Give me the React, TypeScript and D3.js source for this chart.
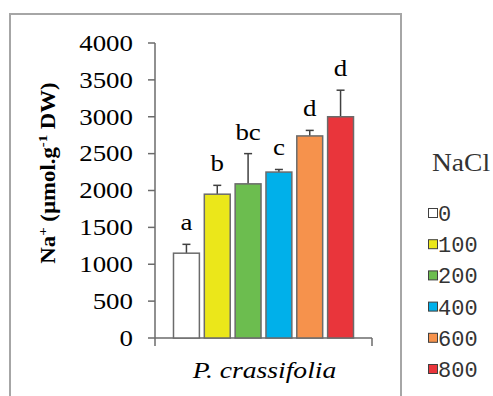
import * as d3 from "d3";

const groups = ["P. crassifolia"];
const treatments = ["0", "100", "200", "400", "600", "800"];
const means = [1150, 1950, 2090, 2250, 2740, 3000];
const errors = [120, 120, 410, 35, 75, 360];
const letters = ["a", "b", "bc", "c", "d", "d"];
const colors = ["#ffffff", "#ebe71a", "#6cbd4f", "#00b0ea", "#f6924c", "#e9353b"];
const yTicks = [0, 500, 1000, 1500, 2000, 2500, 3000, 3500, 4000];

const W = 493;
const H = 396;
const serif = "'Liberation Serif', 'Times New Roman', serif";
// the source figure is stretched a little horizontally
const SX = 1.17;

const App = () => {
  const y = d3.scaleLinear().domain([0, 4000]).range([338, 43]);
  const x0 = d3.scaleBand().domain(groups).range([155, 372]).padding(0);
  const x1 = d3
    .scaleBand()
    .domain(treatments)
    .range([0, x0.bandwidth()])
    .paddingInner(0.16)
    .paddingOuter(0.6);

  const gx = x0(groups[0]) as number;

  return (
    <svg width={W} height={H} style={{ position: "absolute", left: 0, top: 0 }}>
      <rect x={0} y={0} width={W} height={H} fill="#fff" />
      {/* plot frame */}
      <rect x={10} y={14} width={391} height={400} fill="none" stroke="#a6a6a6" strokeWidth={2} />

      {/* y axis */}
      <line x1={155} x2={155} y1={y(4000)} y2={346} stroke="#6b6b6b" strokeWidth={1.5} />
      {yTicks.map((t) => (
        <g key={t}>
          <line x1={148} x2={155} y1={y(t)} y2={y(t)} stroke="#6b6b6b" strokeWidth={1.5} />
          <text
            transform={`translate(133,${y(t)}) scale(${SX},1)`}
            dy="0.34em"
            textAnchor="end"
            fontFamily={serif}
            fontSize={23}
            fill="#000"
          >
            {t}
          </text>
        </g>
      ))}

      {/* x axis */}
      <line x1={155} x2={372} y1={338} y2={338} stroke="#6b6b6b" strokeWidth={1.5} />
      <line x1={372} x2={372} y1={338} y2={346} stroke="#6b6b6b" strokeWidth={1.5} />

      {/* bars */}
      {treatments.map((t, i) => {
        const bx = gx + (x1(t) as number);
        const bw = x1.bandwidth();
        const cx = bx + bw / 2;
        const top = y(means[i] + errors[i]);
        return (
          <g key={t}>
            <line x1={cx} x2={cx} y1={y(means[i])} y2={top} stroke="#404040" strokeWidth={1.5} />
            <line x1={cx - 4} x2={cx + 4} y1={top} y2={top} stroke="#404040" strokeWidth={1.5} />
            <rect
              x={bx}
              y={y(means[i])}
              width={bw}
              height={y(0) - y(means[i])}
              fill={colors[i]}
              stroke="#6b6b6b"
              strokeWidth={1.5}
            />
            <text
              transform={`translate(${cx},${top - 14}) scale(${SX},1)`}
              textAnchor="middle"
              fontFamily={serif}
              fontSize={23}
              fill="#000"
            >
              {letters[i]}
            </text>
          </g>
        );
      })}

      {/* x label */}
      <text
        transform={`translate(${gx + x0.bandwidth() / 2 + 1},378) scale(1.2,1)`}
        textAnchor="middle"
        fontFamily={serif}
        fontStyle="italic"
        fontSize={23}
        fill="#000"
      >
        {groups[0]}
      </text>

      {/* y label */}
      <text
        transform="translate(55,173) rotate(-90) scale(1.14,1)"
        textAnchor="middle"
        fontFamily={serif}
        fontWeight="bold"
        fontSize={20}
        fill="#000"
      >
        Na
        <tspan fontSize={13} dy={-8}>+</tspan>
        <tspan dy={8}> (µmol.g</tspan>
        <tspan fontSize={13} dy={-8}>-1</tspan>
        <tspan dy={8}> DW)</tspan>
      </text>

      {/* legend */}
      <text
        transform="translate(432,171) scale(1.1,1)"
        fontFamily={serif}
        fontSize={25}
        fill="#333"
      >
        NaCl
      </text>
      {treatments.map((t, i) => {
        const ly = 213 + i * 31.2;
        return (
          <g key={t}>
            <rect x={428.5} y={ly - 4.5} width={9} height={9} fill={colors[i]} stroke="#404040" strokeWidth={1} />
            <text
              x={438}
              y={ly}
              dy="0.36em"
              fontFamily="'Liberation Mono', 'Courier New', monospace"
              fontSize={22}
              fill="#333"
            >
              {t}
            </text>
          </g>
        );
      })}
    </svg>
  );
};

export default App;
